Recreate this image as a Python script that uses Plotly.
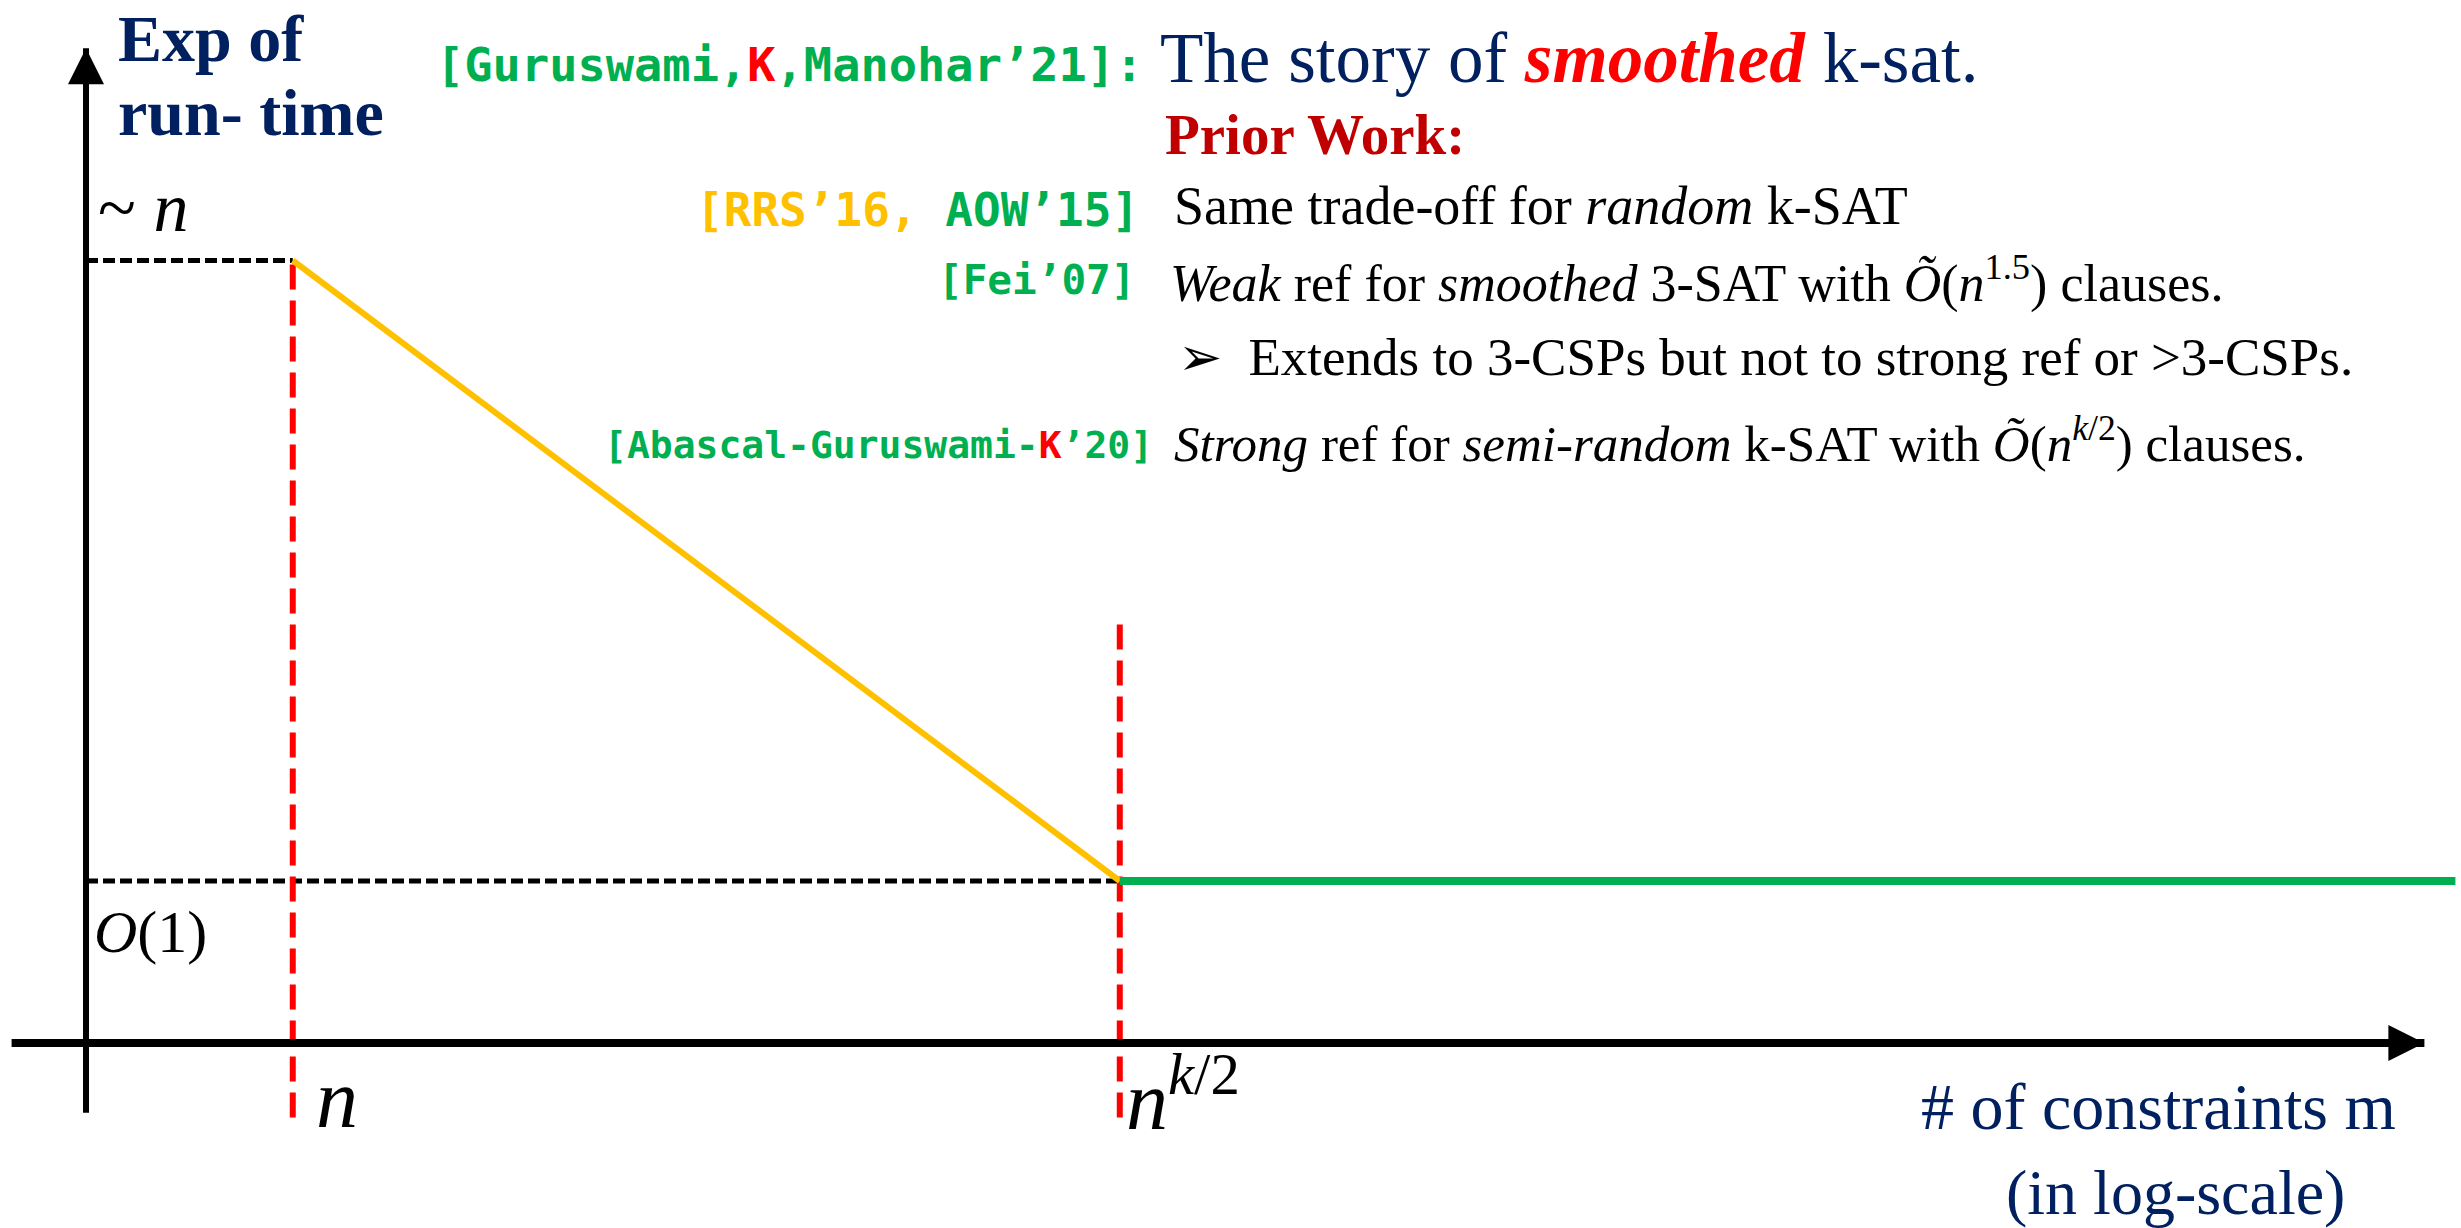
import plotly.graph_objects as go

W, H = 2461, 1228

# ---- schematic data (x: log-scale number of constraints, y: exponent of run-time) ----
threshold_labels = ["<i>n</i>", "<i>n</i><sup><i>k</i>/2</sup>"]
threshold_x = [1.0, 5.0]            # m = n, m = n^{k/2}
threshold_top = [4.83, 2.63]        # where the red dashed markers start
threshold_bottom = -0.46
level_labels = ["~ <i>n</i>", "<i>O</i>(1)"]
level_y = [4.83, 1.0]               # ~n and O(1)
level_x_end = [1.0, 5.0]
tradeoff_x = [1.0, 5.0]             # RRS'16 / AOW'15 trade-off
tradeoff_y = [4.83, 1.0]
smoothed_x = [5.0, 11.46]           # smoothed k-SAT: O(1) beyond n^{k/2}
smoothed_y = [1.0, 1.0]
x_axis_span = [-0.36, 11.31]
y_axis_span = [-0.43, 6.14]
x_range = [-0.416, 11.487]
y_range = [-1.142, 6.438]

NAVY = "#002060"
GREEN = "#00B050"
YELLOW = "#FFC000"
RED = "#FF0000"
DARKRED = "#C00000"
SERIF = "Liberation Serif"
MONO = "DejaVu Sans Mono"

fig = go.Figure()

# guide dashed lines
for yv, xe in zip(level_y, level_x_end):
    fig.add_trace(go.Scatter(x=[0, xe], y=[yv, yv], mode="lines",
                             line=dict(color="black", width=5, dash="12px,5px"),
                             hoverinfo="skip", showlegend=False))
for xv, yt in zip(threshold_x, threshold_top):
    fig.add_trace(go.Scatter(x=[xv, xv], y=[threshold_bottom, yt], mode="lines",
                             line=dict(color=RED, width=6, dash="25px,11px"),
                             hoverinfo="skip", showlegend=False))
# trade-off and smoothed lines
fig.add_trace(go.Scatter(x=tradeoff_x, y=tradeoff_y, mode="lines",
                         line=dict(color=YELLOW, width=6), showlegend=False))
fig.add_trace(go.Scatter(x=smoothed_x, y=smoothed_y, mode="lines",
                         line=dict(color=GREEN, width=8), showlegend=False))
# axes with arrows
fig.add_trace(go.Scatter(x=[0, 0], y=y_axis_span, mode="lines",
                         line=dict(color="black", width=6), showlegend=False))
fig.add_trace(go.Scatter(x=[0], y=[y_axis_span[1]], mode="markers",
                         marker=dict(symbol="arrow-up", size=36, color="black",
                                     line=dict(width=0)), showlegend=False))
fig.add_trace(go.Scatter(x=x_axis_span, y=[0, 0], mode="lines",
                         line=dict(color="black", width=8), showlegend=False))
fig.add_trace(go.Scatter(x=[x_axis_span[1]], y=[0], mode="markers",
                         marker=dict(symbol="arrow-right", size=36, color="black",
                                     line=dict(width=0)), showlegend=False))

def px(x):
    return x / W

def py(y):
    return 1 - y / H

ann = []

def text(t, x, y, size, color="black", family=SERIF, anchor="left", weight="normal"):
    ann.append(dict(text=t, x=px(x), y=py(y), xref="paper", yref="paper",
                    xanchor=anchor, yanchor="middle", showarrow=False,
                    font=dict(family=family, size=size, color=color, weight=weight)))

# axis titles
text("<b>Exp of</b>", 116, 38, 66, NAVY)
text("<b>run- time</b>", 116, 112, 66, NAVY)
text("# of constraints m", 2158, 1106, 66, NAVY, anchor="center")
text("(in log-scale)", 2175, 1192, 64, NAVY, anchor="center")

# level / threshold labels
text(level_labels[0], 96, 208, 70)
text(level_labels[1], 92, 932, 60)
text(threshold_labels[0], 314, 1098, 84)
text(threshold_labels[1], 1124, 1094, 84)

# title row
text("[Guruswami,<span style='color:#FF0000'>K</span>,Manohar’21]:", 1145, 64, 47,
     GREEN, MONO, "right", "bold")
text("The story of <span style='color:#FF0000'><b><i>smoothed</i></b></span> k-sat.",
     1158, 58, 71, NAVY)
text("<b>Prior Work:</b>", 1163, 134, 57, DARKRED)

# prior work rows
text("<span style='color:#FFC000'>[RRS’16,</span> AOW’15]", 1141, 210, 46,
     GREEN, MONO, "right", "bold")
text("Same trade-off for <i>random</i> k-SAT", 1172, 206, 54)
text("[Fei’07]", 1137, 280, 41, GREEN, MONO, "right", "bold")
text("<i>Weak</i> ref for <i>smoothed</i> 3-SAT with <i>Õ</i>(<i>n</i><sup>1.5</sup>) clauses.",
     1168, 280, 52)
text("➢  Extends to 3-CSPs but not to strong ref or >3-CSPs.", 1176, 357, 53)
text("[Abascal-Guruswami-<span style='color:#FF0000'>K</span>’20]", 1155, 445, 38,
     GREEN, MONO, "right", "bold")
text("<i>Strong</i> ref for <i>semi-random</i> k-SAT with <i>Õ</i>(<i>n</i><sup><i>k</i>/2</sup>) clauses.",
     1172, 440, 51)

fig.update_layout(
    width=W, height=H, autosize=False,
    margin=dict(l=0, r=0, t=0, b=0, pad=0),
    paper_bgcolor="white", plot_bgcolor="white",
    xaxis=dict(range=x_range, visible=False, fixedrange=True),
    yaxis=dict(range=y_range, visible=False, fixedrange=True),
    annotations=ann,
    showlegend=False,
)

fig.write_html("out.html", config={"displayModeBar": False},
               post_script="document.body.style.margin='0';document.body.style.overflow='hidden';")
